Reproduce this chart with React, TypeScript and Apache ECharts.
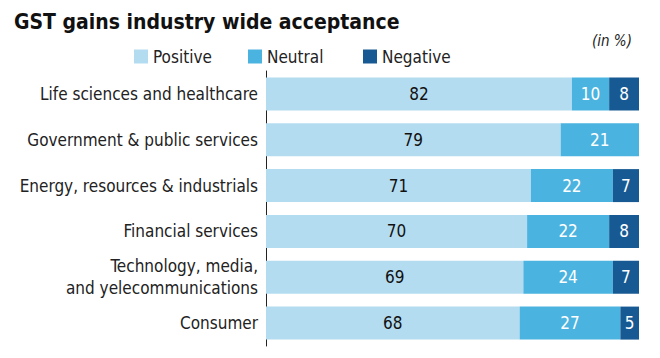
import React, { useEffect, useRef } from "react";
import * as echarts from "echarts";

const categories = [
  "Life sciences and healthcare",
  "Government & public services",
  "Energy, resources & industrials",
  "Financial services",
  "Technology, media,\nand yelecommunications",
  "Consumer",
];
const positive = [82, 79, 71, 70, 69, 68];
const neutral = [10, 21, 22, 22, 24, 27];
const negative = [8, null, 7, 8, 7, 5];
const seriesNames = ["Positive", "Neutral", "Negative"];

const FONT = "'DejaVu Sans Condensed', 'DejaVu Sans', sans-serif";

export default function App() {
  const ref = useRef<HTMLDivElement>(null);
  useEffect(() => {
    document.body.style.margin = "0";
    const chart = echarts.init(ref.current!, null, { renderer: "svg" });
    const mk = (name: string, data: any[], color: string, labelColor: string) => ({
      name,
      type: "bar",
      stack: "total",
      data,
      barWidth: 33,
      itemStyle: { color },
      label: {
        show: true,
        position: "inside",
        color: labelColor,
        fontFamily: FONT,
        fontSize: 17,
      },
    });
    const legendLefts = [134, 248, 363];
    chart.setOption({
      animation: false,
      textStyle: { fontFamily: FONT },
      legend: seriesNames.map((n, i) => ({
        left: legendLefts[i],
        top: 48,
        itemWidth: 14,
        itemHeight: 14,
        icon: "rect",
        padding: 0,
        textStyle: { fontFamily: FONT, fontSize: 17, color: "#222" },
        data: [n],
      })),
      graphic: [
        {
          type: "text",
          left: 14,
          top: 11,
          style: {
            text: "GST gains industry wide acceptance",
            font: `bold 21px ${FONT}`,
            fill: "#111",
          },
        },
        {
          type: "text",
          left: 592,
          top: 33,
          style: { text: "(in %)", font: `italic 15px ${FONT}`, fill: "#222" },
        },
      ],
      grid: { left: 266, right: 21, top: 71, bottom: 12 },
      xAxis: { type: "value", min: 0, max: 100, show: false },
      yAxis: {
        type: "category",
        data: categories,
        inverse: true,
        axisLine: { show: true, lineStyle: { color: "#222", width: 1 } },
        axisTick: { show: false },
        axisLabel: {
          fontFamily: FONT,
          fontSize: 17,
          color: "#222",
          margin: 8,
          lineHeight: 22,
          align: "right",
        },
      },
      series: [
        mk("Positive", positive, "#b4dcf0", "#111"),
        mk("Neutral", neutral, "#4bb3df", "#fff"),
        mk("Negative", negative, "#175a93", "#fff"),
      ],
    });
    return () => chart.dispose();
  }, []);
  return <div ref={ref} style={{ width: 660, height: 358 }} />;
}
